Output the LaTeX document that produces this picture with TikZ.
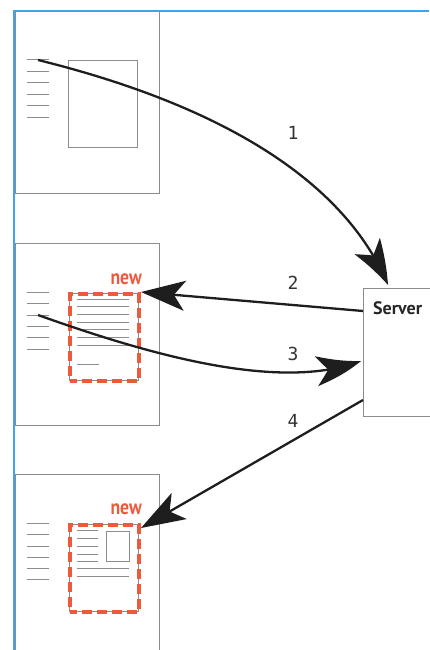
\documentclass[tikz,border=0pt]{standalone}
\usepackage{fontspec}
\setmainfont{Fira Sans}
\newfontfamily\digitfont{DejaVu Sans Mono}
\newfontfamily\servfont{PT Sans}
\newfontfamily\newlblfont[FakeStretch=0.84]{PT Sans Bold}
\usetikzlibrary{arrows.meta,bending}
\definecolor{frameblue}{HTML}{3DA5F0}
\definecolor{newred}{HTML}{EC5A3E}
\definecolor{pgray}{HTML}{8C8C8C}
\definecolor{arrblack}{HTML}{1E1E1E}
\begin{document}
\begin{tikzpicture}[x=1pt,y=-1pt,
  pagebox/.style={draw=pgray, line width=1pt, minimum width=144pt, minimum height=182pt, inner sep=0pt, anchor=north west},
  innerbox/.style={draw=pgray, line width=1pt, inner sep=0pt, anchor=north west},
  newbox/.style={draw=newred, line width=3.5pt, dash pattern=on 10pt off 5pt, dash phase=3pt, minimum width=69pt, minimum height=87pt, inner sep=0pt, anchor=north west, preaction={draw=pgray, line width=1pt, solid}},
  txtline/.style={draw=pgray, line width=1pt},
  arr/.style={draw=arrblack, line width=2.3pt, -{Stealth[length=44pt, width=30pt, inset=11pt, bend]}},
  numlbl/.style={font=\digitfont\fontsize{18}{18}\selectfont, text=black!80},
  newlbl/.style={font=\newlblfont\fontsize{21}{21}\selectfont, text=newred, anchor=base east, inner sep=0pt}]
\useasboundingbox (0,0) rectangle (429,650);
% blue frame
\draw[frameblue, line width=2pt] (14,650) -- (14,11) -- (429,11);
% pages
\node[pagebox] (p1) at (15,11) {};
\node[pagebox] (p2) at (15,243) {};
\node[pagebox, minimum height=190pt] (p3) at (15,474) {};
% page 1
\foreach \y in {60,71.5,83,94.5,106,117.5} \draw[txtline] (27,\y) -- (49,\y);
\node[innerbox, minimum width=69pt, minimum height=87pt] (img1) at (68,60) {};
\coordinate (s1) at (38,60);
% page 2
\foreach \y in {292,303,315,326,337,349} \draw[txtline] (27,\y) -- (49,\y);
\node[newbox] (n2) at (68,292) {};
\foreach \y in {299,306.7,314.3,322,329.7,337.3,345} \draw[txtline] (77,\y) -- (129,\y);
\draw[txtline] (77,364) -- (99,364);
\node[newlbl] (new2) at (142,284) {new};
\coordinate (s3) at (38,315);
% page 3
\foreach \y in {523,534.5,546,557,568.5,579.5} \draw[txtline] (27,\y) -- (49,\y);
\node[newbox] (n3) at (68,523) {};
\foreach \y in {530,538,546,554,561} \draw[txtline] (77,\y) -- (98,\y);
\node[innerbox, minimum width=23pt, minimum height=30pt] (img3) at (106,531) {};
\foreach \y in {568,576} \draw[txtline] (77,\y) -- (129,\y);
\node[newlbl] (new3) at (142,514) {new};
% server
\node[draw=pgray, line width=1pt, minimum width=80pt, minimum height=128pt, inner sep=0pt, anchor=north west] (srv) at (363,288) {};
\node[anchor=base west, inner sep=0pt, font=\servfont\fontsize{18}{18}\selectfont\bfseries, text=black!85] (srvlbl) at (373,314) {Server};
% arrow endpoints
\coordinate (t1) at (388,285);
\coordinate (f2) at (363,311);
\coordinate (t2) at (141,292);
\coordinate (t3) at (361,361);
\coordinate (f4) at (363,400);
\coordinate (t4) at (141,528);
% arrows
\draw[arr] (s1) .. controls (200,100) and (340,170) .. (t1);
\draw[arr] (f2) -- (t2);
\draw[arr] (s3) .. controls (150,355) and (280,392) .. (t3);
\draw[arr] (f4) -- (t4);
% labels
\node[numlbl] (l1) at (293,133) {1};
\node[numlbl] (l2) at (293,283) {2};
\node[numlbl] (l3) at (293,354) {3};
\node[numlbl] (l4) at (293,421) {4};
\end{tikzpicture}
\end{document}
